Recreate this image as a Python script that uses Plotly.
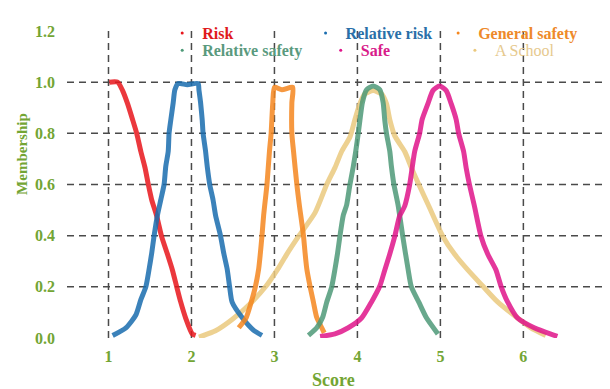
import plotly.graph_objects as go

# ---- data ----
risk_x = [1.01, 1.11, 1.17, 1.23, 1.29, 1.34, 1.39, 1.44, 1.48, 1.52, 1.58, 1.64, 1.71, 1.77, 1.82, 1.87, 1.93, 2.01, 2.05]
risk_y = [1.0, 1.0, 0.967, 0.916, 0.854, 0.8, 0.729, 0.666, 0.6, 0.541, 0.478, 0.397, 0.328, 0.266, 0.203, 0.141, 0.078, 0.016, 0.01]

rel_risk_x = [1.05, 1.21, 1.33, 1.39, 1.45, 1.49, 1.52, 1.55, 1.59, 1.63, 1.67, 1.69, 1.72, 1.73, 1.75, 1.78, 1.80, 1.84, 1.95, 2.08,
              2.09, 2.11, 2.13, 2.14, 2.17, 2.19, 2.22, 2.26, 2.29, 2.35, 2.39, 2.43, 2.46, 2.49, 2.61, 2.75, 2.85]
rel_risk_y = [0.01, 0.04, 0.09, 0.15, 0.20, 0.27, 0.33, 0.40, 0.48, 0.54, 0.60, 0.67, 0.73, 0.80, 0.85, 0.92, 0.97, 0.995, 0.99, 0.995,
              0.97, 0.92, 0.85, 0.80, 0.73, 0.67, 0.60, 0.54, 0.48, 0.40, 0.33, 0.27, 0.20, 0.14, 0.08, 0.03, 0.01]

gen_safety_x = [2.57, 2.66, 2.72, 2.77, 2.81, 2.83, 2.85, 2.87, 2.89, 2.91, 2.94, 2.96, 2.98, 3.00, 3.09, 3.22,
                3.21, 3.21, 3.23, 3.27, 3.30, 3.35, 3.37, 3.39, 3.43, 3.47, 3.51, 3.57, 3.60]
gen_safety_y = [0.04, 0.08, 0.14, 0.20, 0.27, 0.33, 0.40, 0.48, 0.54, 0.60, 0.73, 0.80, 0.92, 0.98, 0.97, 0.98,
                0.92, 0.80, 0.73, 0.60, 0.52, 0.40, 0.33, 0.27, 0.20, 0.14, 0.08, 0.04, 0.02]

rel_safety_x = [3.41, 3.51, 3.58, 3.63, 3.69, 3.73, 3.76, 3.79, 3.83, 3.87, 3.91, 3.95, 3.98, 4.01, 4.03, 4.06, 4.11, 4.19,
                4.27, 4.31, 4.33, 4.35, 4.39, 4.41, 4.44, 4.49, 4.55, 4.61, 4.65, 4.74, 4.83, 4.97]
rel_safety_y = [0.01, 0.04, 0.08, 0.14, 0.20, 0.27, 0.33, 0.40, 0.48, 0.52, 0.60, 0.67, 0.73, 0.80, 0.85, 0.92, 0.97, 0.985,
                0.97, 0.92, 0.85, 0.80, 0.73, 0.67, 0.60, 0.52, 0.39, 0.27, 0.20, 0.14, 0.08, 0.016]

safe_x = [3.55, 3.73, 3.89, 4.05, 4.17, 4.27, 4.33, 4.39, 4.45, 4.51, 4.57, 4.63, 4.69, 4.75, 4.78, 4.85, 4.91, 4.99,
          5.07, 5.13, 5.19, 5.22, 5.28, 5.31, 5.35, 5.41, 5.49, 5.57, 5.67, 5.73, 5.81, 5.93, 6.13, 6.41]
safe_y = [0.006, 0.016, 0.04, 0.078, 0.141, 0.203, 0.266, 0.328, 0.397, 0.478, 0.516, 0.6, 0.729, 0.8, 0.854, 0.916, 0.967, 0.985,
          0.967, 0.916, 0.854, 0.8, 0.729, 0.666, 0.6, 0.516, 0.397, 0.328, 0.266, 0.203, 0.141, 0.078, 0.04, 0.006]

school_x = [2.09, 2.29, 2.49, 2.71, 2.90, 3.04, 3.15, 3.29, 3.49, 3.63, 3.73, 3.81, 3.91, 3.97, 4.03, 4.09, 4.19,
            4.29, 4.35, 4.39, 4.45, 4.57, 4.65, 4.74, 4.86, 5.03, 5.17, 5.33, 5.51, 5.69, 5.93, 6.09, 6.27]
school_y = [0.003, 0.028, 0.072, 0.135, 0.203, 0.269, 0.328, 0.397, 0.49, 0.6, 0.666, 0.729, 0.786, 0.854, 0.916, 0.954, 0.967,
            0.954, 0.916, 0.854, 0.79, 0.729, 0.666, 0.6, 0.516, 0.397, 0.328, 0.266, 0.203, 0.141, 0.078, 0.04, 0.01]

series_names = ["Risk", "Relative risk", "General safety", "Relative safety", "Safe", "A School"]
series_x = [risk_x, rel_risk_x, gen_safety_x, rel_safety_x, safe_x, school_x]
series_y = [risk_y, rel_risk_y, gen_safety_y, rel_safety_y, safe_y, school_y]
series_colors = ["#E8161C", "#1A6DAF", "#F5871F", "#4E9A78", "#E0158A", "#EBC97E"]
legend_text_colors = ["#E01A1C", "#2A6FA8", "#EE8A2A", "#5A9A7E", "#D81B8A", "#E6C98E"]
legend_bold = [True, True, True, True, True, False]

x_ticks = [1, 2, 3, 4, 5, 6, 7]
y_ticks = [0.0, 0.2, 0.4, 0.6, 0.8, 1.0, 1.2]
x_grid = [1, 2, 3, 4, 5, 6]
y_grid = [0.2, 0.4, 0.6, 0.8, 1.0]

axis_green = "#73A534"
grid_color = "#4A4A4A"
font_family = "Liberation Serif"

# legend entry placement (paper coords), one legend box per entry
legend_pos = [(0.176, 0.993), (0.441, 0.993), (0.686, 0.993),
              (0.176, 0.937), (0.469, 0.937), (0.717, 0.937)]

fig = go.Figure()

# grid (drawn below data)
for gx in x_grid:
    fig.add_shape(type="line", xref="x", yref="y", x0=gx, x1=gx, y0=0, y1=1.2,
                  line=dict(color=grid_color, width=1.5, dash="7px,5px"), layer="below")
for gy in y_grid:
    fig.add_shape(type="line", xref="paper", yref="y", x0=0, x1=1, y0=gy, y1=gy,
                  line=dict(color=grid_color, width=1.5, dash="7px,5px"), layer="below")

draw_order = [5, 0, 1, 2, 3, 4]
for i in draw_order:
    fig.add_trace(go.Scatter(x=series_x[i], y=series_y[i], mode="lines",
                             line=dict(color=series_colors[i], width=5, shape="spline", smoothing=0.6),
                             opacity=0.85, showlegend=False, hoverinfo="skip"))

legend_layouts = {}
for i, name in enumerate(series_names):
    key = "legend" if i == 0 else f"legend{i + 1}"
    text = f"<b>{name}</b>" if legend_bold[i] else name
    label = f"<span style='color:{legend_text_colors[i]}'>{text}</span>"
    fig.add_trace(go.Scatter(x=[None], y=[None], mode="markers", name=label, legend=key,
                             marker=dict(color=series_colors[i], size=3)))
    lx, ly = legend_pos[i]
    legend_layouts[key] = dict(x=lx, y=ly, xanchor="left", yanchor="middle", orientation="h",
                               bgcolor="rgba(0,0,0,0)", borderwidth=0,
                               font=dict(family=font_family, size=16))

fig.update_layout(
    width=610, height=389,
    margin=dict(l=59, r=8, t=10, b=59),
    paper_bgcolor="white", plot_bgcolor="white",
    font=dict(family=font_family, size=16, color=axis_green),
    xaxis=dict(range=[0.5, 7.02], tickvals=x_ticks, ticktext=[f"<b>{t}</b>" for t in x_ticks],
               showgrid=False, zeroline=False, showline=False,
               tickfont=dict(family=font_family, size=16, color=axis_green),
               ticklabelstandoff=7, ticklabeloverflow="allow"),
    yaxis=dict(range=[0, 1.2], tickvals=y_ticks, ticktext=[f"<b>{t:.1f}</b>" for t in y_ticks],
               showgrid=False, zeroline=False, showline=False,
               tickfont=dict(family=font_family, size=16, color=axis_green),
               ticklabelstandoff=11),
    annotations=[
        dict(text="<b>Membership</b>", xref="paper", yref="paper", x=-0.083, y=0.6,
             xanchor="center", yanchor="middle", textangle=-90, showarrow=False,
             font=dict(family=font_family, size=15, color=axis_green)),
        dict(text="<b>Score</b>", xref="paper", yref="paper", x=0.492, y=-0.137,
             xanchor="center", yanchor="middle", showarrow=False,
             font=dict(family=font_family, size=18, color=axis_green)),
    ],
    **legend_layouts,
)

fig.write_html("out.html")
